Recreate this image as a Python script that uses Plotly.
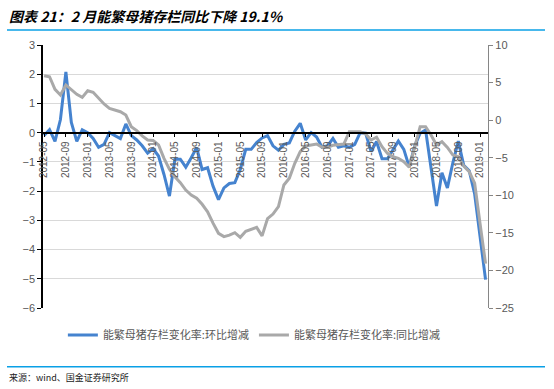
import pandas as pd
import plotly.graph_objects as go

# Categories: monthly, 2012-05 .. 2019-02
months = [p.strftime("%Y-%m") for p in pd.period_range("2012-05", "2019-02", freq="M")]

# 能繁母猪存栏变化率:环比增减 (left axis, %)
mom = [
    -0.10, 0.10, -0.30, 0.45, 2.08, 0.35, -0.30, 0.10,
    0.00, -0.20, -0.50, -0.40, 0.00, -0.10, -0.20, 0.30, -0.10, -0.25, -0.45, -0.70,
    -0.55, -0.80, -1.43, -2.17, -0.91, -0.91, -1.18, -0.86, -0.51, -1.26, -1.20, -1.83,
    -2.29, -1.89, -1.74, -1.71, -1.26, -0.57, -0.57, -0.34, -0.18, -0.10, -0.45, -0.60,
    -0.40, -0.35, 0.05, 0.32, -0.25, 0.00, -0.15, -0.50, -0.45, -0.20, -0.50, -0.45,
    -0.50, -0.40, 0.00, -0.02, -0.65, -0.30, -0.89, -0.89, -0.57, -0.29, -0.57, -1.17,
    -0.46, -0.02, 0.09, -1.14, -2.51, -1.37, -1.89, -1.03, -0.29, -1.12, -1.30, -2.10,
    -3.50, -5.03,
]

# 能繁母猪存栏变化率:同比增减 (right axis, %)
yoy = [
    5.92, 5.78, 4.10, 3.35, 4.68, 4.00, 3.43, 3.03,
    3.92, 3.70, 2.90, 2.15, 1.57, 1.35, 1.12, 0.68, -0.87, -1.40, -2.10, -2.64,
    -2.70, -3.30, -5.08, -6.54, -7.53, -8.32, -9.30, -9.96, -10.40, -11.20, -12.20, -13.70,
    -15.06, -15.50, -15.30, -14.98, -15.60, -14.80, -14.50, -14.27, -15.40, -13.10, -12.50, -11.50,
    -8.63, -7.74, -5.75, -4.20, -3.44, -3.31, -3.18, -3.62, -3.62, -3.35, -3.31, -3.18,
    -1.53, -1.53, -1.53, -1.84, -2.64, -2.28, -3.53, -4.42, -4.86, -5.08, -5.53, -6.28,
    -3.75, -0.87, -0.87, -1.98, -3.31, -2.86, -3.62, -4.64, -4.86, -6.10, -6.86, -8.40,
    -13.80, -19.10,
]

tick_labels = months[::4]
left_ticks = [3, 2, 1, 0, -1, -2, -3, -4, -5, -6]
right_ticks = [10, 5, 0, -5, -10, -15, -20, -25]

name_mom = "能繁母猪存栏变化率:环比增减"
name_yoy = "能繁母猪存栏变化率:同比增减"
title_text = "图表 21：2 月能繁母猪存栏同比下降 19.1%"
source_text = "来源：wind、国金证券研究所"

BLUE = "#4583cf"
GRAY = "#a9a9a9"
ACCENT = "#0aa0e6"
TXT = "#595959"
FONT = "Liberation Sans, Noto Sans CJK SC"
CJK = "Noto Sans CJK SC"

fig = go.Figure()
fig.add_trace(go.Scatter(x=months, y=mom, name=name_mom, mode="lines",
                         line=dict(color=BLUE, width=3), yaxis="y"))
fig.add_trace(go.Scatter(x=months, y=yoy, name=name_yoy, mode="lines",
                         line=dict(color=GRAY, width=3), yaxis="y2"))

L, R, T, B = 43, 66, 45, 81
W, H = 554, 389
pw, ph = W - L - R, H - T - B

def px_x(x):
    return (x - L) / pw

def px_y(y):
    return (H - B - y) / ph

fig.update_layout(
    width=W, height=H,
    margin=dict(l=L, r=R, t=T, b=B, autoexpand=False),
    paper_bgcolor="white", plot_bgcolor="white",
    showlegend=True,
    legend=dict(orientation="h", x=0.475, xanchor="center", y=px_y(335), yanchor="middle",
                font=dict(family=CJK, size=11, color=TXT), itemwidth=30,
                bgcolor="rgba(0,0,0,0)"),
    xaxis=dict(type="category", categoryorder="array", categoryarray=months,
               range=[-0.2, len(months) - 1 + 0.45],
               anchor="free", position=6 / 9,
               showline=True, linecolor="black", linewidth=1.5,
               ticks="outside", ticklen=4, tickcolor="black", tickwidth=1,
               tickvals=tick_labels, ticktext=tick_labels, tickangle=-90,
               tickfont=dict(family=FONT, size=10, color=TXT),
               showgrid=False, zeroline=False),
    yaxis=dict(range=[-6, 3], tickvals=left_ticks, showline=True, linecolor="black",
               linewidth=1.5, ticks="outside", ticklen=4, tickcolor="black",
               showgrid=True, gridcolor="#d9d9d9", gridwidth=1, zeroline=False,
               tickfont=dict(family=FONT, size=11, color=TXT)),
    yaxis2=dict(range=[-25, 10], tickvals=right_ticks, overlaying="y", side="right",
                showline=True, linecolor="#868686", linewidth=1.2, ticks="outside",
                ticklen=4, tickcolor="#868686", showgrid=False, zeroline=False,
                tickfont=dict(family=FONT, size=11, color=TXT)),
)

fig.add_annotation(text=title_text, xref="paper", yref="paper", x=px_x(7), y=px_y(16),
                   xanchor="left", yanchor="middle", showarrow=False,
                   font=dict(family=CJK, size=14, color="black", weight="bold", style="italic"))
fig.add_annotation(text=source_text, xref="paper", yref="paper", x=px_x(7), y=px_y(377),
                   xanchor="left", yanchor="middle", showarrow=False,
                   font=dict(family=CJK, size=9, color="#222"))
for yy in (30, 366.7):
    fig.add_shape(type="line", xref="paper", yref="paper", x0=px_x(7), x1=px_x(545),
                  y0=px_y(yy), y1=px_y(yy), line=dict(color=ACCENT, width=1.5))

fig.write_html("out.html", config={"displayModeBar": False},
               post_script="document.body.style.margin='0';document.body.style.padding='0';")
